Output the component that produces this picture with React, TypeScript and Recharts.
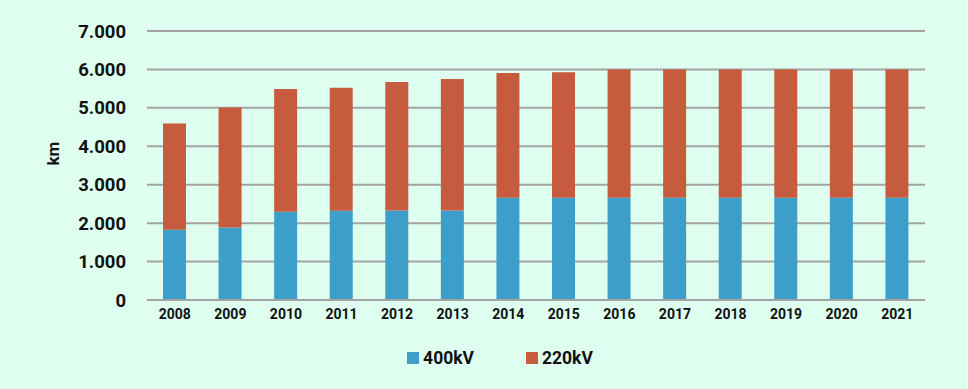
import React from 'react';
import { BarChart, Bar, XAxis, YAxis, CartesianGrid, Legend } from 'recharts';

document.body.style.margin = '0';

const years = ['2008', '2009', '2010', '2011', '2012', '2013', '2014', '2015', '2016', '2017', '2018', '2019', '2020', '2021'];
const kv400 = [1830, 1885, 2295, 2325, 2330, 2330, 2660, 2660, 2660, 2660, 2660, 2660, 2660, 2660];
const kv220 = [2765, 3125, 3195, 3200, 3340, 3420, 3245, 3265, 3340, 3340, 3340, 3340, 3340, 3340];
const seriesNames = ['400kV', '220kV'];
const yTicks = [0, 1000, 2000, 3000, 4000, 5000, 6000, 7000];

const BLUE = '#3d9fc9';
const ORANGE = '#c65b3d';

const data = years.map((year, i) => ({ year, kv400: kv400[i], kv220: kv220[i] }));

const fmt = (v: number) => String(v).replace(/\B(?=(\d{3})+(?!\d))/g, '.');

const LegendBox = (props: any) => {
  const items = [...(props?.payload ?? [])].sort(
    (a: any, b: any) => seriesNames.indexOf(a.value) - seriesNames.indexOf(b.value)
  );
  return (
    <div style={{ display: 'flex', justifyContent: 'center', gap: 52, paddingLeft: 32 }}>
      {items.map((item: any) => (
        <div key={item.value} style={{ display: 'flex', alignItems: 'center', gap: 4 }}>
          <div style={{ width: 12, height: 12, backgroundColor: item.color }} />
          <span style={{ fontSize: 17.5, fontWeight: 700, color: '#111' }}>{item.value}</span>
        </div>
      ))}
    </div>
  );
};

export default function App() {
  return (
    <div style={{ width: 968, height: 389, background: '#defff0', fontFamily: 'Roboto' }}>
      <BarChart
        width={968}
        height={389}
        data={data}
        margin={{ top: 31, right: 43, left: 0, bottom: 39 }}
      >
        <CartesianGrid vertical={false} stroke="#a3a3a3" strokeWidth={2} />
        <XAxis
          dataKey="year"
          tickLine={false}
          stroke="#a3a3a3"
          strokeWidth={2}
          tickMargin={3}
          tick={{ fill: '#111', fontSize: 14, fontWeight: 700 }}
        />
        <YAxis
          width={147}
          domain={[0, 7000]}
          ticks={yTicks}
          tickFormatter={fmt}
          axisLine={false}
          tickLine={false}
          tickMargin={15}
          tick={{ fill: '#111', fontSize: 18.5, fontWeight: 700 }}
          label={{
            value: 'km',
            angle: -90,
            position: 'insideLeft',
            offset: 53,
            style: { fill: '#111', fontSize: 17, fontWeight: 700 },
          }}
        />
        <Legend verticalAlign="bottom" content={LegendBox} wrapperStyle={{ top: 348, left: 0, width: 968 }} />
        <Bar dataKey="kv400" name="400kV" stackId="a" fill={BLUE} barSize={23} isAnimationActive={false} />
        <Bar dataKey="kv220" name="220kV" stackId="a" fill={ORANGE} barSize={23} isAnimationActive={false} />
      </BarChart>
    </div>
  );
}
